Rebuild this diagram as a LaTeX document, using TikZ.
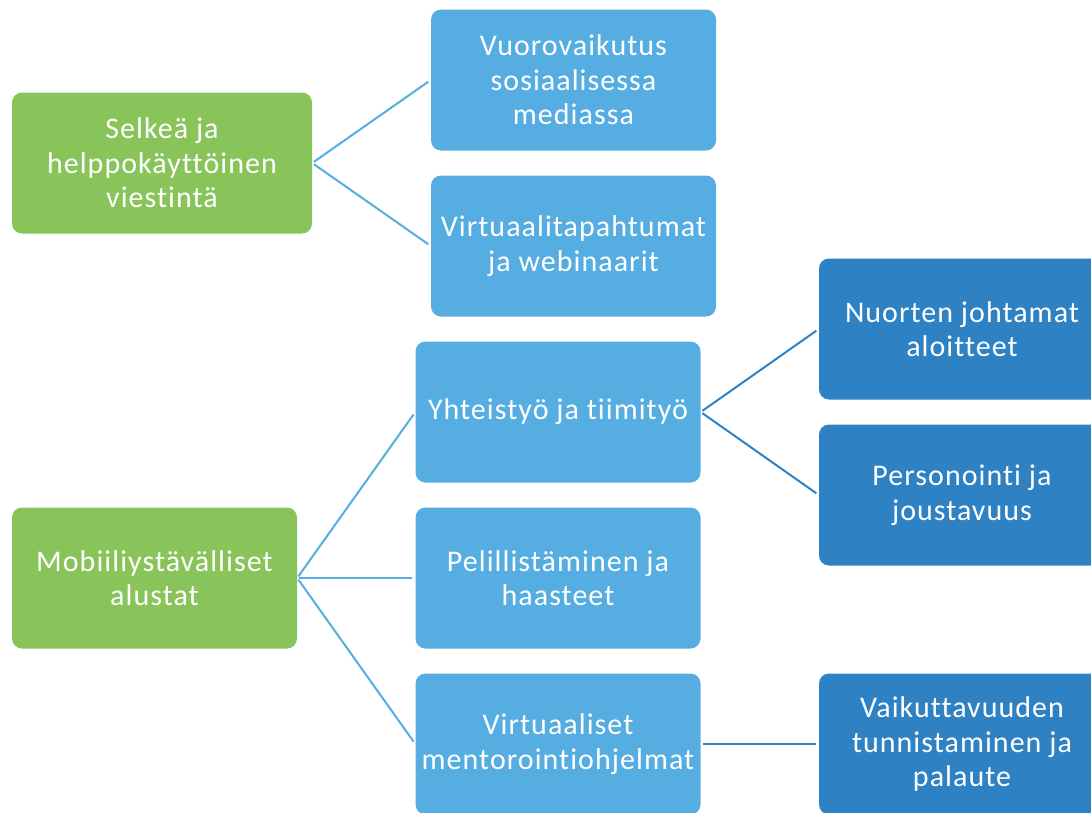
\documentclass[tikz,border=0pt]{standalone}
\usepackage{fontspec}
\setmainfont[LetterSpace=3.5,Ligatures={NoCommon}]{Carlito}
\definecolor{cgreen}{RGB}{137,196,91}
\definecolor{clight}{RGB}{86,173,225}
\definecolor{cdark}{RGB}{46,129,194}
\tikzset{
  box/.style={rounded corners=10pt, minimum height=141pt, inner sep=0pt, align=center,
    text=white, font=\fontsize{30}{34.5}\selectfont},
  gbox/.style={box, fill=cgreen, minimum width=300pt},
  g2box/.style={box, fill=cgreen, minimum width=285pt},
  lbox/.style={box, fill=clight, minimum width=285pt},
  dbox/.style={box, fill=cdark, minimum width=286pt},
  lline/.style={draw=clight, line width=2pt, shorten <=2pt, shorten >=3pt},
  dline/.style={draw=cdark, line width=2pt, shorten <=2pt, shorten >=3pt},
}
\begin{document}
\begin{tikzpicture}[x=1pt,y=-1pt]
\useasboundingbox (0,0) rectangle (1091,812);
\begin{scope}
\clip (0,0) rectangle (1091,812);
\node[gbox] (g1) at (162,163) {Selkeä ja\\helppokäyttöinen\\viestintä};
\node[g2box] (g2) at (154.5,578) {Mobiiliystävälliset\\alustat};
\node[lbox] (b1) at (573.5,80) {Vuorovaikutus\\sosiaalisessa\\mediassa};
\node[lbox] (b2) at (573.5,246) {Virtuaalitapahtumat\\ja webinaarit};
\node[lbox] (b3) at (558,412) {Yhteistyö ja tiimityö};
\node[lbox] (b4) at (558,578) {Pelillistäminen ja\\haasteet};
\node[lbox] (b5) at (558,744) {Virtuaaliset\\mentorointiohjelmat};
\node[dbox] (d1) at (962,329) {Nuorten johtamat\\aloitteet};
\node[dbox] (d2) at (962,495) {Personointi ja\\joustavuus};
\node[dbox] (d3) at (962,744) {Vaikuttavuuden\\tunnistaminen ja\\palaute};
\end{scope}
\draw[lline] (g1.east) -- (b1.west);
\draw[lline] (g1.east) -- (b2.west);
\draw[lline] (g2.east) -- (b3.west);
\draw[lline] (g2.east) -- (b4.west);
\draw[lline] (g2.east) -- (b5.west);
\draw[dline] (b3.east) -- (d1.west);
\draw[dline] (b3.east) -- (d2.west);
\draw[dline] (b5.east) -- (d3.west);
\end{tikzpicture}
\end{document}
